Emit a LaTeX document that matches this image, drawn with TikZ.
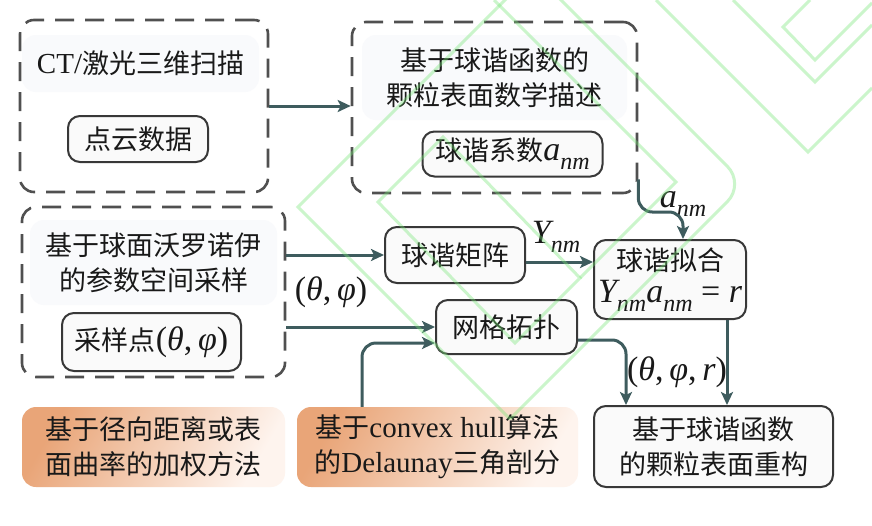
\documentclass[tikz,border=0pt]{standalone}
\usepackage{fontspec}
\setmainfont{Liberation Serif}
\newfontfamily\cjk{Noto Sans CJK SC}
\usetikzlibrary{arrows.meta,backgrounds,calc}
\definecolor{arrowc}{RGB}{62,92,94}
\definecolor{dashc}{RGB}{80,80,80}
\definecolor{softfill}{RGB}{249,250,252}
\definecolor{shadowc}{RGB}{120,130,170}
\definecolor{orA}{RGB}{233,165,120}
\definecolor{orB}{RGB}{254,244,238}
\definecolor{wm}{RGB}{120,230,120}
\definecolor{txt}{RGB}{25,25,25}
\newcommand{\lat}[1]{{\rmfamily\fontsize{29}{35}\selectfont #1}}
\newcommand{\mth}[1]{{\rmfamily\fontsize{34}{38}\selectfont #1}}
\newcommand{\mi}[1]{{\itshape #1}}
\newcommand{\msb}[1]{\raisebox{-9pt}{\fontsize{24}{24}\selectfont\itshape #1}}
\newcommand{\softshadow}[2]{%
  \foreach \i in {1,...,7}{%
    \fill[shadowc, opacity=#2, rounded corners=16pt]
      ($(#1.north west)+(-\i*1.0,3-\i*0.4)$) rectangle ($(#1.south east)+(\i*1.0,3+\i*1.2)$);
  }}
\begin{document}
\begin{tikzpicture}[x=1pt,y=-1pt,
  every node/.style={font=\cjk\fontsize{27}{35}\selectfont, text=txt},
  grp/.style={draw=dashc, line width=2.6pt, dash pattern=on 19pt off 11pt, rounded corners=14pt, inner sep=0},
  soft/.style={fill=softfill, rounded corners=14pt, inner sep=0, align=center},
  bx/.style={draw=black!78, line width=2pt, fill=black!2, rounded corners=12pt, inner sep=0, align=center},
  orb/.style={top color=orA, bottom color=orB, shading angle=60, rounded corners=14pt, inner sep=0, align=center},
  arr/.style={draw=arrowc, line width=3pt, -{Stealth[length=13pt,width=12pt,inset=3pt]}, rounded corners=14pt},
  lbl/.style={inner sep=0},
  wml/.style={draw=wm, line width=3pt, opacity=0.38}]
\useasboundingbox (0,0) rectangle (872,525);
\fill[white] (0,0) rectangle (872,525);

% groups and boxes
\node[grp, minimum width=248pt, minimum height=172pt] (g1) at (144,106) {};
\node[soft, minimum width=237pt, minimum height=57pt] (ct) at (140.5,63.5) {\lat{CT/}激光三维扫描};
\node[bx, minimum width=140pt, minimum height=46pt] (pc) at (138,139) {点云数据};

\node[grp, minimum width=285pt, minimum height=171pt] (g2) at (494.5,107.5) {};
\node[soft, minimum width=265pt, minimum height=85pt] (desc) at (494.5,77.5) {基于球谐函数的\\颗粒表面数学描述};
\node[bx, minimum width=180pt, minimum height=45pt] (coef) at (512.5,154) {球谐系数\mth{\mi{a}\msb{nm}}};

\node[grp, minimum width=263pt, minimum height=170pt] (g3) at (153.5,292) {};
\node[soft, minimum width=247pt, minimum height=85pt] (sv) at (153.5,262.5) {基于球面沃罗诺伊\\的参数空间采样};
\node[bx, minimum width=179pt, minimum height=58pt] (sp) at (151.5,342) {采样点\mth{(\mi{θ},\,\mi{φ})}};

\node[bx, minimum width=140pt, minimum height=56pt] (mat) at (455,255) {球谐矩阵};
\node[bx, minimum width=152pt, minimum height=79pt] (fit) at (670,279.5) {球谐拟合\\[-3pt]\mth{\mi{Y}\msb{nm}\mi{a}\msb{nm}\ = \mi{r}}};
\node[bx, minimum width=141pt, minimum height=54pt] (mesh) at (506.5,327) {网格拓扑};
\node[bx, minimum width=239pt, minimum height=81pt] (recon) at (713.5,446.5) {基于球谐函数\\的颗粒表面重构};

\node[orb, minimum width=263pt, minimum height=80pt] (or1) at (153.5,447) {基于径向距离或表\\面曲率的加权方法};
\node[orb, minimum width=281pt, minimum height=80pt] (or2) at (437.5,447) {基于\lat{convex hull}算法\\的\lat{Delaunay}三角剖分};

% shadows
\begin{scope}[on background layer]
\softshadow{ct}{0.05}
\softshadow{desc}{0.05}
\softshadow{sv}{0.05}
\softshadow{or1}{0.035}
\softshadow{or2}{0.035}
\softshadow{pc}{0.018}
\softshadow{coef}{0.018}
\softshadow{sp}{0.018}
\softshadow{mat}{0.018}
\softshadow{fit}{0.018}
\softshadow{mesh}{0.018}
\softshadow{recon}{0.018}
\end{scope}

% labels
\node[lbl] (ly) at (556,237) {\mth{\mi{Y}\msb{nm}}};
\node[lbl] (la) at (683,204) {\mth{\mi{a}\msb{nm}}};
\node[lbl] (ltp) at (331,292) {\mth{(\mi{θ},\,\mi{φ})}};
\node[lbl] (ltpr) at (677,372) {\mth{(\mi{θ},\,\mi{φ},\,\mi{r})}};

% connectors
\coordinate (m1) at ($(mat.east)+(0,7)$);
\coordinate (a1) at ($(g2.south east)+(0,-15)$);
\coordinate (a2) at (683,0);
\coordinate (m2) at ($(mesh.east)+(0,13)$);
\coordinate (c626) at (626,0);
\coordinate (d1) at (362,0);
\coordinate (m3) at ($(mesh.west)+(0,16)$);
\coordinate (c727) at (727,0);

\draw[arr] (g1.east) -- (g1.east -| g2.west);
\draw[arr] (g3.east |- mat.west) -- (mat.west);
\draw[arr] (m1) -- (m1 -| fit.west);
\draw[arr] (g3.east |- mesh.west) -- (mesh.west);
\draw[arr] (a1) |- ($(fit.north -| a2)+(0,-27)$) -- (fit.north -| a2);
\draw[arr] (m2) -| (recon.north -| c626);
\draw[arr] (or2.north -| d1) |- (m3);
\draw[arr] (fit.south -| c727) -- (recon.north -| c727);

% watermark
\begin{scope}
\clip (0,0) rectangle (872,525);
\draw[wml] (530,-25) -- (298,207) -- (510,419);
\draw[wml, rounded corners=25pt] (510,419) -- (745,184) -- (540,-21);
\draw[wml] (378,202) -- (515,343) -- (580,278) -- (443,137) -- cycle;
\draw[wml] (494,0) -- (676,182) -- (580,278);
\draw[wml] (810,0) -- (783,27) -- (815,60) -- (872,3);
\draw[wml] (733,0) -- (815,82) -- (872,25);
\draw[wml] (656,0) -- (808,152) -- (872,88);
\end{scope}
\end{tikzpicture}
\end{document}
